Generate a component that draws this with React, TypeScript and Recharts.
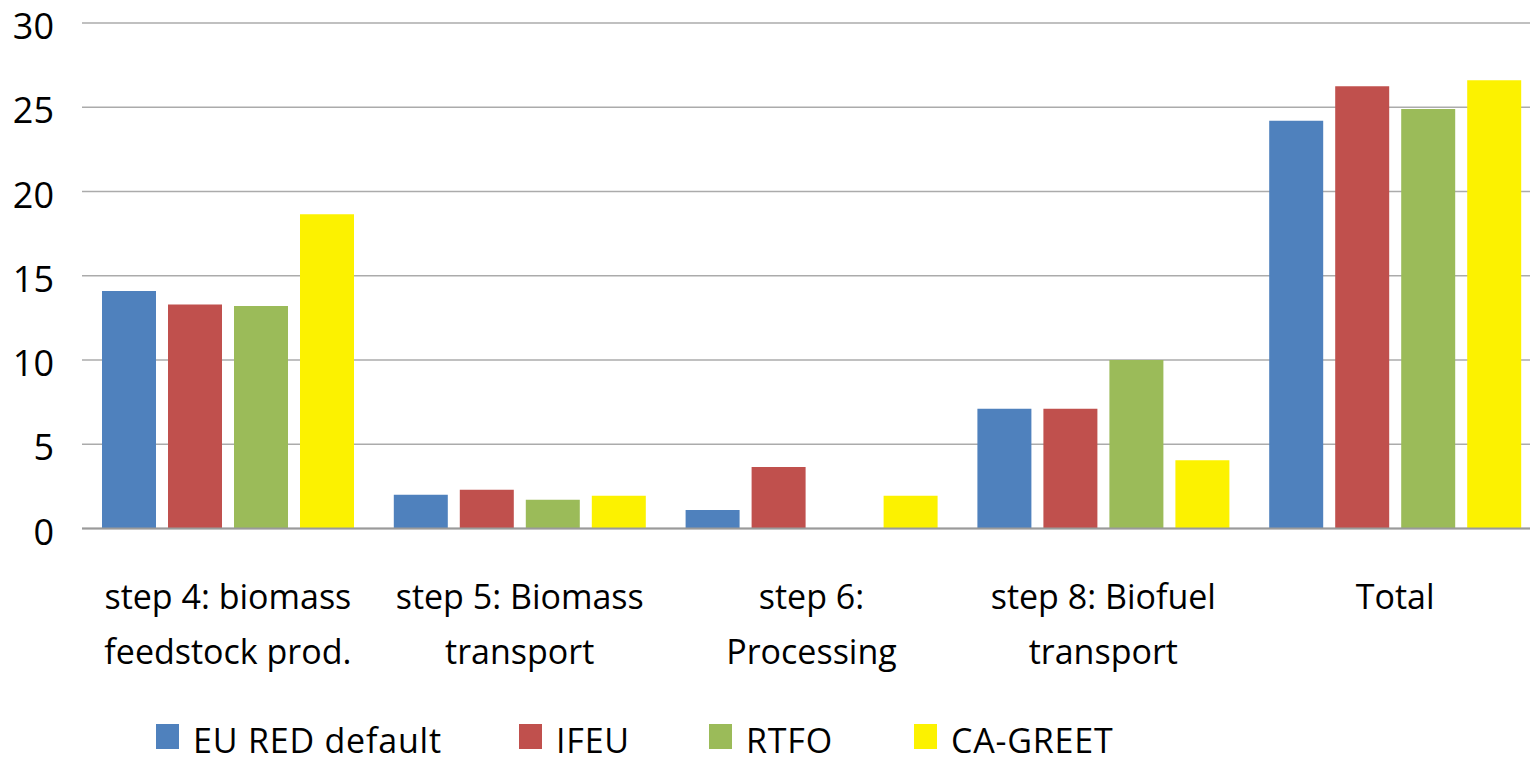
import React from 'react';
import { BarChart, Bar, XAxis, YAxis, CartesianGrid, Legend } from 'recharts';

const categories = [
  'step 4: biomass|feedstock prod.',
  'step 5: Biomass|transport',
  'step 6:|Processing',
  'step 8: Biofuel|transport',
  'Total',
];
const euRed = [14.1, 2.0, 1.1, 7.1, 24.2];
const ifeu = [13.3, 2.3, 3.65, 7.1, 26.25];
const rtfo = [13.2, 1.7, 0, 10.0, 24.9];
const caGreet = [18.65, 1.95, 1.95, 4.05, 26.6];
const yTicks = [0, 5, 10, 15, 20, 25, 30];

const seriesNames = ['EU RED default', 'IFEU', 'RTFO', 'CA-GREET'];
const seriesKeys = ['eu', 'ifeu', 'rtfo', 'ca'];
const seriesColors = ['#4F81BD', '#C0504D', '#9BBB59', '#FCF200'];

const data = categories.map((c, i) => ({
  name: c,
  eu: euRed[i],
  ifeu: ifeu[i],
  rtfo: rtfo[i],
  ca: caGreet[i],
}));

const FONT = '"Open Sans", sans-serif';

const XTick = (props: any) => {
  const { x, y, payload } = props;
  const lines = String(payload.value).split('|');
  return (
    <text x={x} y={y + 72} textAnchor="middle" fontFamily={FONT} fontSize={34} fill="#000">
      {lines.map((l, i) => (
        <tspan key={i} x={x} dy={i === 0 ? 0 : 55}>
          {l}
        </tspan>
      ))}
    </text>
  );
};

const YTick = (props: any) => {
  const { x, y, payload } = props;
  return (
    <text x={x + 2} y={y + 16} textAnchor="end" fontFamily={FONT} fontSize={36} fill="#000">
      {payload.value}
    </text>
  );
};

const legendX = [156, 519, 709, 914];

const LegendContent = () => (
  <svg width={1530} height={44} style={{ display: 'block', overflow: 'visible' }}>
    {seriesNames.map((n, i) => (
      <g key={n}>
        <rect x={legendX[i]} y={6} width={23} height={25} fill={seriesColors[i]} />
        <text x={legendX[i] + 37} y={35} fontFamily={FONT} fontSize={34} fill="#000" letterSpacing={0.8}>
          {n}
        </text>
      </g>
    ))}
  </svg>
);

export default function App() {
  return (
    <div style={{ position: 'absolute', left: 0, top: 0, width: 1530, height: 762, overflow: 'hidden', background: '#fff' }}>
      <BarChart
        width={1545}
        height={762}
        data={data}
        margin={{ top: 23, right: 4, left: 0, bottom: 0 }}
        barSize={54}
        barGap={12}
      >
        <CartesianGrid vertical={false} stroke="#ababab" strokeWidth={1.6} />
        <XAxis
          dataKey="name"
          height={189.5}
          tickLine={false}
          axisLine={{ stroke: '#9a9a9a', strokeWidth: 2 }}
          tick={<XTick />}
          interval={0}
        />
        <YAxis
          width={82}
          domain={[0, 30]}
          ticks={yTicks}
          axisLine={false}
          tickLine={false}
          tickMargin={24}
          tick={<YTick />}
        />
        <Legend
          verticalAlign="bottom"
          content={<LegendContent />}
          wrapperStyle={{ position: 'absolute', left: 0, top: 718, width: 1530, height: 44 }}
        />
        {seriesKeys.map((k, i) => (
          <Bar key={k} dataKey={k} name={seriesNames[i]} fill={seriesColors[i]} isAnimationActive={false} />
        ))}
      </BarChart>
    </div>
  );
}
